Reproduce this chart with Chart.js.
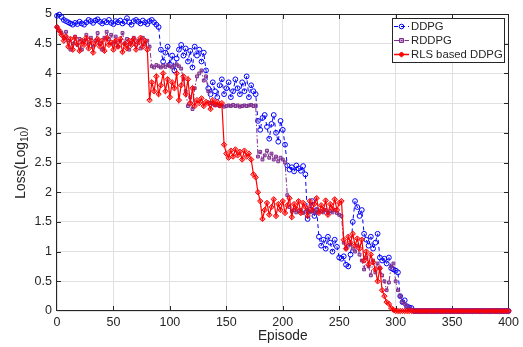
<!DOCTYPE html>
<html><head><meta charset="utf-8">
<script src="https://cdn.jsdelivr.net/npm/chart.js@4.4.1/dist/chart.umd.min.js"></script>
<style>html,body{margin:0;padding:0;background:#fff;}#wrap{width:523px;height:347px;}</style>
</head><body><div id="wrap"><canvas id="c" width="523" height="347"></canvas></div>
<script>
const episodes = [
0,2,4,6,8,10,12,14,16,18,
20,22,24,26,28,30,32,34,36,38,
40,42,44,46,48,50,52,54,56,58,
60,62,64,66,68,70,72,74,76,78,
80,82,84,86,88,90,92,94,96,98,
100,102,104,106,108,110,112,114,116,118,
120,122,124,126,128,130,132,134,136,138,
140,142,144,146,148,150,152,154,156,158,
160,162,164,166,168,170,172,174,176,178,
180,182,184,186,188,190,192,194,196,198,
200,202,204,206,208,210,212,214,216,218,
220,222,224,226,228,230,232,234,236,238,
240,242,244,246,248,250,252,254,256,258,
260,262,264,266,268,270,272,274,276,278,
280,282,284,286,288,290,292,294,296,298,
300,302,304,306,308,310,312,314,316,318,
320,322,324,326,328,330,332,334,336,338,
340,342,344,346,348,350,352,354,356,358,
360,362,364,366,368,370,372,374,376,378,
380,382,384,386,388,390,392,394,396,398,
400];

const ddpg = [
4.97,4.99,4.95,4.90,4.88,4.86,4.84,4.82,4.85,4.83,
4.87,4.84,4.82,4.86,4.90,4.88,4.85,4.89,4.91,4.87,
4.84,4.88,4.86,4.90,4.85,4.83,4.88,4.86,4.89,4.84,
4.87,4.93,4.86,4.82,4.88,4.90,4.87,4.84,4.89,4.86,
4.83,4.88,4.90,4.86,4.82,4.78,4.40,4.20,4.35,4.45,
4.15,4.30,4.05,4.25,4.40,4.48,4.30,4.42,4.20,4.38,
4.10,4.45,4.30,4.40,4.20,4.35,4.05,3.75,3.65,3.85,
3.70,3.60,3.80,3.90,3.65,3.75,3.85,3.60,3.70,3.90,
3.75,3.65,3.85,3.70,3.95,3.60,3.80,3.70,3.65,3.20,
3.05,3.25,3.30,3.10,2.90,3.15,3.30,3.00,2.85,3.20,
3.05,2.80,2.45,2.38,2.42,2.35,2.45,2.40,2.36,2.44,
2.30,1.55,1.70,1.85,1.60,1.70,1.25,1.10,1.20,1.05,
1.25,1.15,1.00,1.20,1.08,0.90,0.88,0.92,0.78,0.75,
0.95,1.50,1.85,1.75,1.60,1.70,1.30,1.20,1.10,1.25,
1.05,1.15,1.30,0.90,0.85,0.88,0.80,0.90,0.72,0.70,
0.68,0.65,0.25,0.15,0.18,0.08,0.06,0.05,0,0,
0,0,0,0,0,0,0,0,0,0,
0,0,0,0,0,0,0,0,0,0,
0,0,0,0,0,0,0,0,0,0,
0,0,0,0,0,0,0,0,0,0,
0];

const rddpg = [
4.78,4.72,4.68,4.60,4.70,4.55,4.40,4.50,4.62,4.48,
4.58,4.40,4.55,4.65,4.50,4.60,4.45,4.55,4.68,4.50,
4.40,4.60,4.70,4.58,4.65,4.50,4.62,4.45,4.55,4.68,
4.50,4.58,4.40,4.52,4.60,4.48,4.55,4.42,4.60,4.50,
4.55,4.45,4.12,4.10,4.14,4.12,4.10,4.13,4.11,4.14,
4.12,4.10,4.13,4.15,4.12,4.08,3.90,3.70,3.45,3.60,
3.40,3.75,3.95,4.00,4.05,3.88,3.95,3.70,3.50,3.48,
3.46,3.47,3.45,3.46,3.44,3.45,3.46,3.45,3.47,3.45,
3.46,3.44,3.45,3.46,3.45,3.46,3.47,3.45,3.46,2.60,
2.68,2.55,2.62,2.70,2.58,2.65,2.55,2.60,2.52,2.58,
2.55,2.50,1.95,1.75,1.68,1.70,1.66,1.68,1.70,1.65,
1.67,1.70,1.66,1.68,1.65,1.70,1.67,1.68,1.66,1.70,
1.65,1.68,1.66,1.70,1.65,1.62,1.60,1.15,1.05,1.10,
1.12,1.05,1.00,1.10,0.95,0.85,0.70,0.90,0.75,0.60,
0.85,0.65,0.80,0.72,0.60,0.50,0.35,0.48,0.75,0.80,
0.50,0.35,0.25,0.15,0.12,0.08,0.05,0.02,0,0,
0,0,0,0,0,0,0,0,0,0,
0,0,0,0,0,0,0,0,0,0,
0,0,0,0,0,0,0,0,0,0,
0,0,0,0,0,0,0,0,0,0,
0];

const rlsDdpg = [
4.78,4.72,4.65,4.55,4.62,4.45,4.58,4.40,4.60,4.50,
4.38,4.55,4.48,4.60,4.42,4.55,4.35,4.50,4.58,4.45,
4.55,4.38,4.60,4.48,4.52,4.40,4.55,4.45,4.58,4.36,
4.50,4.42,4.55,4.48,4.58,4.40,4.52,4.60,4.45,4.55,
4.40,3.55,3.85,3.70,3.95,3.65,3.80,4.00,3.70,3.90,
3.60,3.85,3.75,4.00,3.55,3.80,3.95,3.65,3.90,3.50,
3.75,3.45,3.55,3.50,3.58,3.45,3.52,3.50,3.40,3.55,
3.48,3.52,3.46,3.50,2.80,2.65,2.58,2.70,2.60,2.72,
2.62,2.68,2.55,2.70,2.60,2.65,2.55,2.30,2.25,2.00,
1.85,1.55,1.70,1.82,1.62,1.75,1.88,1.60,1.80,1.70,
1.85,1.65,1.78,1.90,1.58,1.80,1.72,1.85,1.65,1.82,
1.75,1.60,1.85,1.70,1.80,1.90,1.65,1.78,1.70,1.86,
1.62,1.80,1.72,1.88,1.70,1.82,1.85,1.20,1.05,1.25,
1.15,1.30,1.10,1.22,1.05,1.20,0.85,1.00,0.78,0.95,
0.82,0.70,0.50,0.72,0.35,0.25,0.15,0.12,0.05,0.02,
0,0,0,0,0,0,0,0,0,0,
0,0,0,0,0,0,0,0,0,0,
0,0,0,0,0,0,0,0,0,0,
0,0,0,0,0,0,0,0,0,0,
0,0,0,0,0,0,0,0,0,0,
0];

const xTicks = [0,50,100,150,200,250,300,350,400];
const yTicks = [0,0.5,1,1.5,2,2.5,3,3.5,4,4.5,5];
const seriesNames = ['DDPG','RDDPG','RLS based DDPG'];
const xTitle = 'Episode';
const yTitleMain = 'Loss(Log';
const yTitleSub = '10';
const yTitleEnd = ')';

const FONT = '"Liberation Sans", Arial, Helvetica, sans-serif';
const INK = '#262626';
const COLORS = ['#0000ff', '#7e2f8e', '#ff0000'];

const styles = [
  {borderDash:[4,3], pointStyle:'circle', pointRadius:2.4, pointBackgroundColor:'rgba(0,0,0,0)', order:2},
  {borderDash:[5,2,1.5,2], pointStyle:'rect', pointRadius:2, pointBackgroundColor:'rgba(126,47,142,0.45)', order:1},
  {borderDash:[], pointStyle:'rectRot', pointRadius:2.7, pointBackgroundColor:'rgba(255,0,0,0.45)', order:0}
];
const seriesData = [ddpg, rddpg, rlsDdpg];

const datasets = seriesData.map((d, i) => ({
  label: seriesNames[i],
  data: d,
  borderColor: COLORS[i],
  pointBorderColor: COLORS[i],
  borderWidth: i === 2 ? 1.2 : 1,
  pointBorderWidth: 1,
  pointHoverRadius: 0,
  tension: 0,
  fill: false,
  clip: false,
  ...styles[i]
}));

function drawMarker(ctx, style, x, y, color) {
  ctx.save();
  ctx.strokeStyle = color; ctx.lineWidth = 1;
  ctx.beginPath();
  if (style === 'circle') { ctx.arc(x, y, 2.3, 0, Math.PI*2); ctx.stroke(); }
  else if (style === 'rect') { ctx.fillStyle = 'rgba(126,47,142,0.45)'; ctx.rect(x-2, y-2, 4, 4); ctx.fill(); ctx.stroke(); }
  else { ctx.moveTo(x, y-2.6); ctx.lineTo(x+2.6, y); ctx.lineTo(x, y+2.6); ctx.lineTo(x-2.6, y); ctx.closePath(); ctx.fillStyle = COLORS[2]; ctx.fill(); ctx.stroke(); }
  ctx.restore();
}

const framePlugin = {
  id: 'frame',
  beforeDatasetsDraw(chart) {
    const {ctx, chartArea: a, scales: {x, y}} = chart;
    ctx.save();
    ctx.strokeStyle = INK; ctx.lineWidth = 1;
    const L = Math.round(a.left) - 0.5, R = Math.round(a.right) - 0.5;
    const T = Math.round(a.top) + 0.5, B = Math.round(a.bottom) - 0.5;
    ctx.strokeRect(L, T, R - L, B - T);
    const tl = 4.5;
    ctx.beginPath();
    xTicks.forEach(v => {
      const px = Math.round(x.getPixelForValue(v)) + 0.5;
      if (v === xTicks[0] || v === xTicks[xTicks.length-1]) return;
      ctx.moveTo(px, B); ctx.lineTo(px, B - tl);
      ctx.moveTo(px, T); ctx.lineTo(px, T + tl);
    });
    yTicks.forEach(v => {
      const py = Math.round(y.getPixelForValue(v)) + 0.5;
      if (v === yTicks[0] || v === yTicks[yTicks.length-1]) return;
      ctx.moveTo(L, py); ctx.lineTo(L + tl, py);
      ctx.moveTo(R, py); ctx.lineTo(R - tl, py);
    });
    ctx.stroke();
    ctx.restore();
  },
  afterDraw(chart) {
    const {ctx, chartArea: a} = chart;
    ctx.save();
    ctx.fillStyle = INK;
    ctx.font = '13.75px ' + FONT;
    ctx.textAlign = 'center'; ctx.textBaseline = 'middle';
    ctx.fillText(xTitle, (a.left + a.right) / 2, 336);
    ctx.translate(21, (a.top + a.bottom) / 2);
    ctx.rotate(-Math.PI / 2);
    ctx.textAlign = 'left'; ctx.textBaseline = 'middle';
    ctx.font = '13.75px ' + FONT;
    const w1 = ctx.measureText(yTitleMain).width;
    const w3 = ctx.measureText(yTitleEnd).width;
    ctx.font = '10px ' + FONT;
    const w2 = ctx.measureText(yTitleSub).width;
    const start = -(w1 + w2 + w3) / 2;
    ctx.font = '13.75px ' + FONT;
    ctx.fillText(yTitleMain, start, 0);
    ctx.font = '10px ' + FONT;
    ctx.fillText(yTitleSub, start + w1, 4.5);
    ctx.font = '13.75px ' + FONT;
    ctx.fillText(yTitleEnd, start + w1 + w2, 0);
    ctx.restore();

    ctx.save();
    const bx = 392.5, by = 18.5, bw = 112, bh = 44;
    ctx.fillStyle = '#ffffff';
    ctx.fillRect(bx, by, bw, bh);
    ctx.strokeStyle = INK; ctx.lineWidth = 1;
    ctx.strokeRect(bx, by, bw, bh);
    const rows = [26, 40, 54];
    const mstyles = ['circle', 'rect', 'rectRot'];
    ctx.font = '11.3px ' + FONT;
    ctx.textBaseline = 'middle'; ctx.textAlign = 'left';
    rows.forEach((ry, i) => {
      ctx.save();
      ctx.strokeStyle = COLORS[i]; ctx.lineWidth = i === 2 ? 1.5 : 1;
      ctx.setLineDash(styles[i].borderDash);
      ctx.beginPath(); ctx.moveTo(394, ry + 0.5); ctx.lineTo(409, ry + 0.5); ctx.stroke();
      ctx.restore();
      drawMarker(ctx, mstyles[i], 401.5, ry + 0.5, COLORS[i]);
      ctx.fillStyle = INK;
      ctx.fillText(seriesNames[i], 411, ry + 1);
    });
    ctx.restore();
  }
};

new Chart(document.getElementById('c'), {
  type: 'line',
  data: { labels: episodes, datasets },
  options: {
    responsive: false,
    animation: false,
    devicePixelRatio: 1,
    layout: { padding: { left: 0, top: 14, right: 13, bottom: 0 } },
    plugins: { legend: { display: false }, tooltip: { enabled: false } },
    scales: {
      x: {
        type: 'linear', min: 0, max: 400,
        afterBuildTicks: s => { s.ticks = xTicks.map(v => ({value: v})); },
        afterFit: s => { s.height = 36; },
        grid: { color: '#e0e0e0', lineWidth: 1, drawTicks: false },
        border: { display: false },
        ticks: { color: INK, font: { family: FONT, size: 12.5 }, padding: 4, maxRotation: 0, callback: v => String(v) }
      },
      y: {
        type: 'linear', min: 0, max: 5,
        afterBuildTicks: s => { s.ticks = yTicks.map(v => ({value: v})); },
        afterFit: s => { s.width = 57; },
        grid: { color: '#e0e0e0', lineWidth: 1, drawTicks: false },
        border: { display: false },
        ticks: { color: INK, font: { family: FONT, size: 12.5 }, padding: 5, callback: v => String(v) }
      }
    }
  },
  plugins: [framePlugin]
});
</script>
</body></html>
